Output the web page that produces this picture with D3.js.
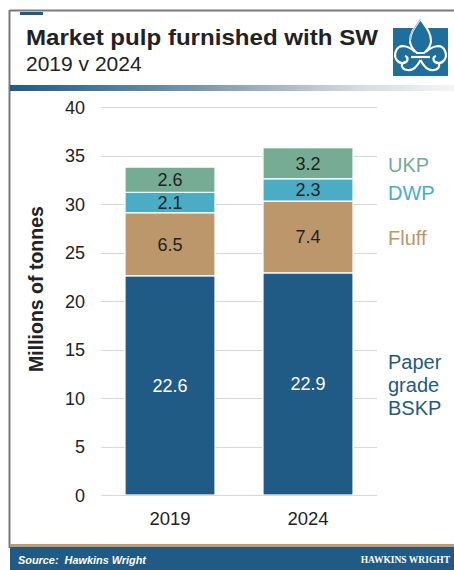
<!DOCTYPE html>
<html>
<head>
<meta charset="utf-8">
<script src="https://cdn.jsdelivr.net/npm/d3@7"></script>
<style>
  html, body { margin: 0; padding: 0; background: #fff; }
  svg { display: block; font-family: "Liberation Sans", Arial, sans-serif; }
</style>
</head>
<body>
<svg id="chart" width="454" height="570"></svg>
<script>
// Market pulp furnished with softwood, millions of tonnes
const years = ["2019", "2024"];
const series = ["Paper grade BSKP", "Fluff", "DWP", "UKP"];
const bskp = [22.6, 22.9];
const fluff = [6.5, 7.4];
const dwp = [2.1, 2.3];
const ukp = [2.6, 3.2];
const yTicks = [0, 5, 10, 15, 20, 25, 30, 35, 40];
const colors = ["#1f5b85", "#bd976c", "#4bacc6", "#76ac94"];
const legendLines = [["Paper", "grade", "BSKP"], ["Fluff"], ["DWP"], ["UKP"]];

const svg = d3.select("#chart");
const W = 454, H = 570;

// ---- frame ----
svg.append("line").attr("x1", 9.5).attr("x2", W).attr("y1", 10.5).attr("y2", 10.5)
  .attr("stroke", "#7a7a7a").attr("stroke-width", 2);
svg.append("line").attr("x1", 9.5).attr("x2", 9.5).attr("y1", 10).attr("y2", 548)
  .attr("stroke", "#7a7a7a").attr("stroke-width", 2);
svg.append("rect").attr("x", 20).attr("y", 12).attr("width", 23).attr("height", 3).attr("fill", "#1f5b85");

// ---- title ----
svg.append("text").attr("x", 26).attr("y", 45)
  .attr("font-size", 22.5).attr("font-weight", "bold").attr("fill", "#222")
  .attr("textLength", 352).attr("lengthAdjust", "spacingAndGlyphs")
  .text("Market pulp furnished with SW");
svg.append("text").attr("x", 26).attr("y", 71)
  .attr("font-size", 21).attr("fill", "#222")
  .text("2019 v 2024");

// gradient rule under the title
const defs = svg.append("defs");
const grad = defs.append("linearGradient").attr("id", "rule").attr("x1", "0").attr("x2", "1");
grad.append("stop").attr("offset", "0").attr("stop-color", "#1f5b85");
grad.append("stop").attr("offset", "0.45").attr("stop-color", "#7f9bb0");
grad.append("stop").attr("offset", "0.8").attr("stop-color", "#d8dde2");
grad.append("stop").attr("offset", "1").attr("stop-color", "#f4f4f4");
svg.append("rect").attr("x", 10).attr("y", 85).attr("width", W - 10).attr("height", 6).attr("fill", "url(#rule)");

// ---- logo ----
const logo = svg.append("g").attr("transform", "translate(393,19)");
logo.append("rect").attr("x", 0).attr("y", 9).attr("width", 55).attr("height", 48).attr("fill", "#1f6f9c");
// side petals
logo.append("path")
  .attr("d", "M22,33 C16,27 6,24 3,32 C0,39 5,45 11,44 C15,43 16,38 12,37")
  .attr("fill", "none").attr("stroke", "#fff").attr("stroke-width", 2.2);
logo.append("path")
  .attr("d", "M33,33 C39,27 49,24 52,32 C55,39 50,45 44,44 C40,43 39,38 43,37")
  .attr("fill", "none").attr("stroke", "#fff").attr("stroke-width", 2.2);
// lower curls
logo.append("path")
  .attr("d", "M27.5,41 C24,48 20,52 14,51 C8,50 7,44 12,43")
  .attr("fill", "none").attr("stroke", "#fff").attr("stroke-width", 2.2);
logo.append("path")
  .attr("d", "M27.5,41 C31,48 35,52 41,51 C47,50 48,44 43,43")
  .attr("fill", "none").attr("stroke", "#fff").attr("stroke-width", 2.2);
logo.append("path")
  .attr("d", "M18,38 L37,38").attr("stroke", "#fff").attr("stroke-width", 2.2);
// central petal
logo.append("path")
  .attr("d", "M27.5,0 C22,8 17,14 17,22 C17,28 21,31 24,34 L31,34 C34,31 38,28 38,22 C38,14 33,8 27.5,0 Z")
  .attr("fill", "#1f6f9c").attr("stroke", "#fff").attr("stroke-width", 2);
logo.append("path")
  .attr("d", "M27.5,0 C22,8 17,14 17,22")
  .attr("fill", "none").attr("stroke", "#1f6f9c").attr("stroke-width", 0.5);

// ---- scales ----
const plot = { left: 101, right: 377, top: 107, bottom: 495 };
const x = d3.scaleBand().domain(years).range([plot.left, plot.right]).paddingInner(0.348).paddingOuter(0.174);
const y = d3.scaleLinear().domain([0, 40]).range([plot.bottom, plot.top]);

// gridlines
svg.append("g").selectAll("line").data(yTicks.filter(t => t > 0)).join("line")
  .attr("x1", plot.left).attr("x2", plot.right)
  .attr("y1", d => Math.round(y(d)) + 0.5).attr("y2", d => Math.round(y(d)) + 0.5)
  .attr("stroke", "#d9d9d9").attr("stroke-width", 1);

// y axis tick labels
const yAxis = d3.axisLeft(y).tickValues(yTicks).tickSize(0).tickPadding(0);
const yg = svg.append("g").attr("transform", `translate(${plot.left - 16},0)`).call(yAxis);
yg.select(".domain").remove();
yg.selectAll("text").attr("font-size", 18).attr("fill", "#222").attr("dy", "0.36em")
  .attr("font-family", "Liberation Sans, Arial, sans-serif");

// y axis title
svg.append("text").attr("transform", "translate(43,289) rotate(-90)")
  .attr("text-anchor", "middle").attr("font-size", 19.5).attr("font-weight", "bold").attr("fill", "#222")
  .text("Millions of tonnes");

// ---- stacked bars ----
const table = years.map((yr, i) => ({ year: yr, "Paper grade BSKP": bskp[i], "Fluff": fluff[i], "DWP": dwp[i], "UKP": ukp[i] }));
const stacked = d3.stack().keys(series)(table);

const layers = svg.append("g").selectAll("g").data(stacked).join("g")
  .attr("fill", (d, i) => colors[i]);
layers.selectAll("rect").data(d => d.map(p => ({ p, key: d.key }))).join("rect")
  .attr("x", d => x(d.p.data.year))
  .attr("width", x.bandwidth())
  .attr("y", d => y(d.p[1]))
  .attr("height", d => y(d.p[0]) - y(d.p[1]))
  .attr("stroke", "#fff").attr("stroke-width", 1.2);

// value labels
layers.selectAll("text").data(d => d.map(p => ({ p, key: d.key }))).join("text")
  .attr("x", d => x(d.p.data.year) + x.bandwidth() / 2)
  .attr("y", d => (y(d.p[0]) + y(d.p[1])) / 2 + 6.5)
  .attr("text-anchor", "middle").attr("font-size", 18)
  .attr("fill", d => d.key === "Paper grade BSKP" ? "#fff" : "#222")
  .text(d => (d.p[1] - d.p[0]).toFixed(1));

// baseline axis
svg.append("line").attr("x1", plot.left).attr("x2", plot.right)
  .attr("y1", plot.bottom + 0.5).attr("y2", plot.bottom + 0.5)
  .attr("stroke", "#d9d9d9").attr("stroke-width", 1.2);

// x labels
const xAxis = d3.axisBottom(x).tickSize(0).tickPadding(0);
const xg = svg.append("g").attr("transform", `translate(0,${plot.bottom + 30})`).call(xAxis);
xg.select(".domain").remove();
xg.selectAll("text").attr("font-size", 18.5).attr("fill", "#222").attr("dy", 0)
  .attr("font-family", "Liberation Sans, Arial, sans-serif");

// ---- series labels at the right ----
const legendBase = [[369, 392, 415], [245], [200], [172]];
series.forEach((s, i) => {
  const t = svg.append("text").attr("x", 388).attr("font-size", 20).attr("fill", colors[i]);
  legendLines[i].forEach((ln, j) => {
    t.append("tspan").attr("x", 388).attr("y", legendBase[i][j]).text(ln);
  });
});

// ---- footer ----
svg.append("rect").attr("x", 10).attr("y", 544).attr("width", W - 10).attr("height", 3).attr("fill", "#c49a6c");
svg.append("rect").attr("x", 10).attr("y", 547).attr("width", W - 10).attr("height", H - 547).attr("fill", "#1f5b85");
svg.append("text").attr("x", 18).attr("y", 564)
  .attr("font-size", 11.5).attr("font-weight", "bold").attr("font-style", "italic").attr("fill", "#fff")
  .attr("font-family", "Liberation Sans, Arial, sans-serif")
  .attr("xml:space", "preserve")
  .attr("textLength", 128).attr("lengthAdjust", "spacingAndGlyphs")
  .text("Source:  Hawkins Wright");
svg.append("text").attr("x", 450).attr("y", 563).attr("text-anchor", "end")
  .attr("font-size", 9.5).attr("font-weight", "bold").attr("fill", "#fff")
  .attr("font-family", "Liberation Serif, Times New Roman, serif")
  .text("HAWKINS WRIGHT");
</script>
</body>
</html>
